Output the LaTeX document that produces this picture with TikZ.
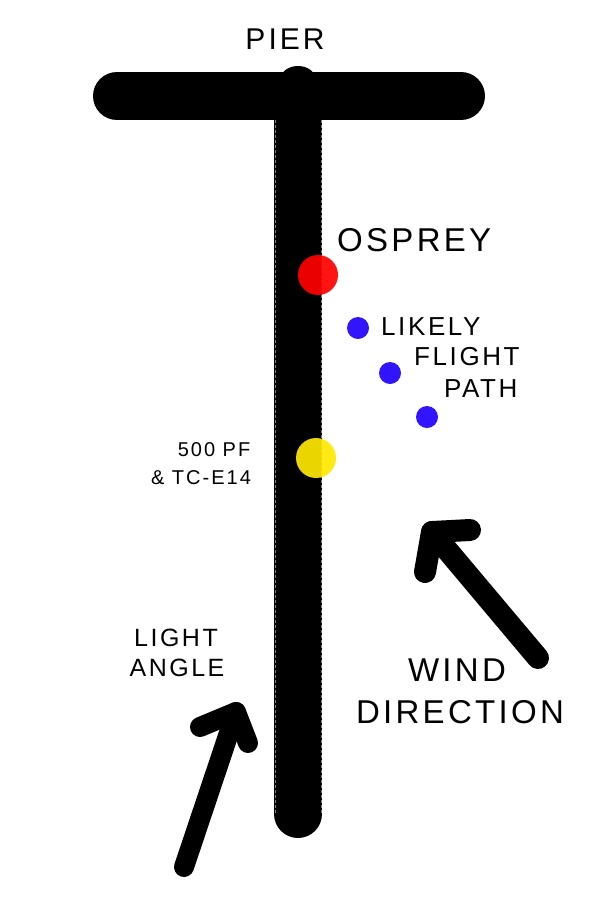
\documentclass[tikz,border=0pt]{standalone}
\usepackage{fontspec}
\setmainfont{Liberation Sans}
\definecolor{ospreyred}{RGB}{255,0,0}
\definecolor{pathblue}{RGB}{34,0,255}
\definecolor{cameragold}{RGB}{255,232,0}
\begin{document}
\begin{tikzpicture}[x=1pt,y=-1pt, line join=round, line cap=round]
	\tikzset{
		lbl/.style={font=\fontsize{#1}{#1}\selectfont\addfontfeatures{LetterSpace=10}, inner sep=0pt},
		spot/.style={circle, fill=#1, fill opacity=0.92, inner sep=0pt},
		bigspot/.style={spot=#1, minimum size=40pt},
		smallspot/.style={spot=#1, minimum size=22pt},
		fatarrow/.style={line width=#1pt}
	}
	\useasboundingbox (0,0) rectangle (591,900);
	\def\px{298} \def\ptop{96} \def\pbot{814} % pier
	% pier
	\draw[line width=48pt] (117,\ptop)--(461,\ptop);
	\fill (\px,80) ellipse (18 and 14);
	\draw[line width=48pt] (\px,\ptop)--(\px,\pbot);
	\draw[gray, densely dashed, line width=0.8pt, line cap=butt] (275,120)--(275,\pbot) (321,120)--(321,\pbot);
	\node[lbl=30] (pier) at (285,39) {PIER};
	% spots
	\node[bigspot=ospreyred] (osprey) at (318,275) {};
	\node[smallspot=pathblue] (fp1) at (358,328) {};
	\node[smallspot=pathblue] (fp2) at (390,373) {};
	\node[smallspot=pathblue] (fp3) at (427,417) {};
	\node[bigspot=cameragold] (camera) at (316,458) {};
	% labels
	\node[lbl=33, anchor=west] (ospreytxt) at (337,240) {OSPREY};
	\node[lbl=26, anchor=west] (likely) at (381,327) {LIKELY};
	\node[lbl=26, anchor=west] (flight) at (414,357) {FLIGHT};
	\node[lbl=26, anchor=west] (path) at (444,389) {PATH};
	\node[lbl=20] (gear1) at (214,450) {500 PF};
	\node[lbl=20] (gear2) at (201,478) {\& TC-E14};
	\node[lbl=25] (light1) at (176,638) {LIGHT};
	\node[lbl=25] (light2) at (177,668) {ANGLE};
	\node[lbl=33] (wind1) at (457,670) {WIND};
	\node[lbl=33] (wind2) at (460,712) {DIRECTION};
	% light arrow
	\coordinate (lt) at (184,867); \coordinate (lh) at (236,712);
	\coordinate (lb1) at (200,727); \coordinate (lb2) at (248,743);
	\draw[fatarrow=20] (lt)--(lh);
	\draw[fatarrow=20] (lb1)--(lh)--(lb2);
	% wind arrow
	\coordinate (wt) at (538,658); \coordinate (wh) at (432,532);
	\coordinate (wb1) at (470,530); \coordinate (wb2) at (425,572);
	\draw[fatarrow=22] (wt)--(wh);
	\draw[fatarrow=22] (wb1)--(wh)--(wb2);
\end{tikzpicture}
\end{document}
